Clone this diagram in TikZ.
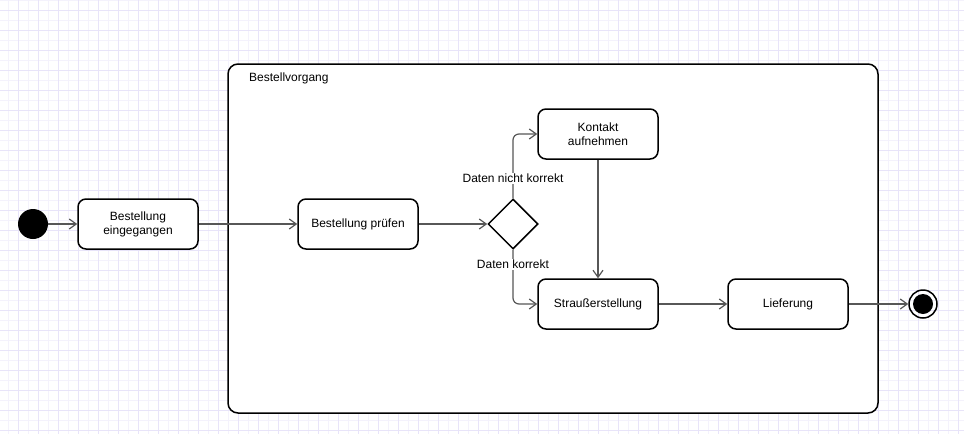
\documentclass[tikz,border=0pt]{standalone}
\usepackage{fontspec}
\setmainfont{Liberation Sans}
\usetikzlibrary{arrows.meta,shapes.geometric}

\definecolor{gridminor}{HTML}{F4F2FC}
\definecolor{gridmajor}{HTML}{E8E4F9}
\definecolor{edgegray}{HTML}{575757}

\tikzset{
  activity/.style={draw, line width=1.5pt, rounded corners=8pt, fill=white,
    minimum width=120pt, minimum height=50pt, align=center, inner sep=2pt},
  decision/.style={draw, diamond, line width=1.5pt, fill=white,
    minimum width=50pt, minimum height=50pt, inner sep=0pt},
  startstate/.style={circle, fill=black, minimum size=30pt, inner sep=0pt},
  endstate/.style={circle, draw, line width=1.5pt, minimum size=28pt, inner sep=0pt,
    path picture={\fill (path picture bounding box.center) circle (10pt);}},
  flow/.style={draw=edgegray, line width=1.2pt, -{Straight Barb[length=7pt,width=10pt]}},
  guard/.style={fill=white, inner sep=1pt},
}

\begin{document}
\begin{tikzpicture}[x=1pt, y=-1pt, font=\fontsize{12}{14}\selectfont]
  \useasboundingbox (0,0) rectangle (964,434);

  % Background grid
  \foreach \gx in {8,18,...,958} \draw[gridminor, line width=0.8pt] (\gx,0) -- (\gx,434);
  \foreach \gy in {0,10,...,430} \draw[gridminor, line width=0.8pt] (0,\gy) -- (964,\gy);
  \foreach \gx in {18,38,...,958} \draw[gridmajor, line width=0.8pt] (\gx,0) -- (\gx,434);
  \foreach \gy in {10,30,...,430} \draw[gridmajor, line width=0.8pt] (0,\gy) -- (964,\gy);

  % Container
  \node[draw, line width=1.5pt, rounded corners=10pt, fill=white,
        minimum width=650pt, minimum height=349pt] (vorgang) at (553,238.5) {};
  \node[anchor=west, inner sep=0pt] (titel) at (249,78) {Bestellvorgang};

  % States and actions
  \node[startstate] (start) at (33,224) {};
  \node[activity] (eingang) at (138,224) {Bestellung\\eingegangen};
  \node[activity] (pruefen) at (358,224) {Bestellung prüfen};
  \node[decision] (entscheid) at (513,224) {};
  \node[activity] (kontakt) at (598,134) {Kontakt\\aufnehmen};
  \node[activity] (strauss) at (598,304) {Straußerstellung};
  \node[activity] (lieferung) at (788,304) {Lieferung};
  \node[endstate] (ende) at (923,304) {};

  % Flows
  \draw[flow] (start) -- (eingang);
  \draw[flow] (eingang) -- (pruefen);
  \draw[flow] (pruefen) -- (entscheid);
  \draw[flow, rounded corners=6pt] (entscheid.north) |- node[guard, pos=0.154] {Daten nicht korrekt} (kontakt.west);
  \draw[flow, rounded corners=6pt] (entscheid.south) |- node[guard, pos=0.136] {Daten korrekt} (strauss.west);
  \draw[flow] (kontakt) -- (strauss);
  \draw[flow] (strauss) -- (lieferung);
  \draw[flow] (lieferung) -- (ende);

\end{tikzpicture}
\end{document}
